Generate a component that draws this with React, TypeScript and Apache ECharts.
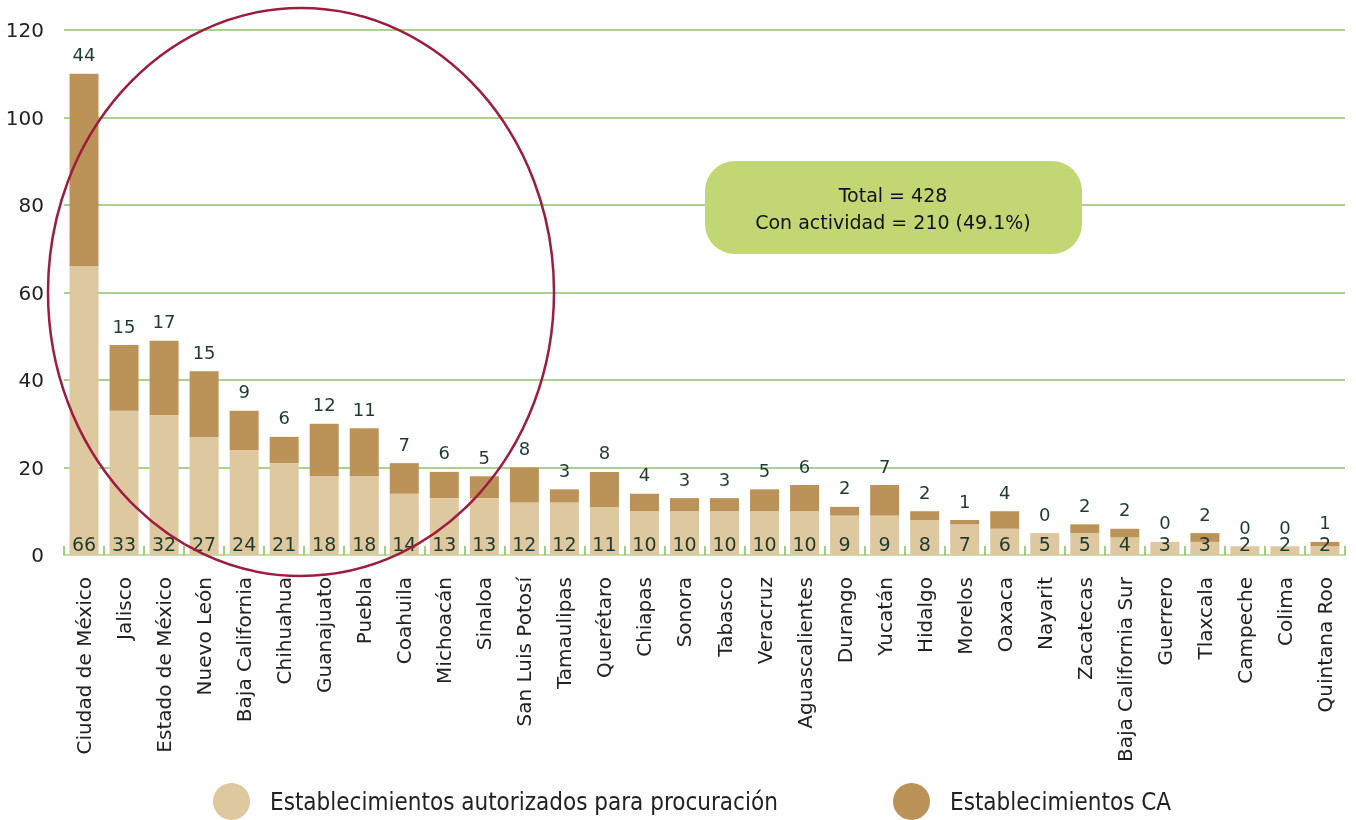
import React, { useEffect, useRef } from "react";
import * as echarts from "echarts";

const categories = [
  "Ciudad de México", "Jalisco", "Estado de México", "Nuevo León", "Baja California",
  "Chihuahua", "Guanajuato", "Puebla", "Coahuila", "Michoacán", "Sinaloa",
  "San Luis Potosí", "Tamaulipas", "Querétaro", "Chiapas", "Sonora", "Tabasco",
  "Veracruz", "Aguascalientes", "Durango", "Yucatán", "Hidalgo", "Morelos", "Oaxaca",
  "Nayarit", "Zacatecas", "Baja California Sur", "Guerrero", "Tlaxcala", "Campeche",
  "Colima", "Quintana Roo",
];
const autorizados = [66, 33, 32, 27, 24, 21, 18, 18, 14, 13, 13, 12, 12, 11, 10, 10, 10, 10, 10, 9, 9, 8, 7, 6, 5, 5, 4, 3, 3, 2, 2, 2];
const conActividad = [44, 15, 17, 15, 9, 6, 12, 11, 7, 6, 5, 8, 3, 8, 4, 3, 3, 5, 6, 2, 7, 2, 1, 4, 0, 2, 2, 0, 2, 0, 0, 1];
const yTicks = { min: 0, max: 120, interval: 20 };
const seriesNames = ["Establecimientos autorizados para procuración", "Establecimientos CA"];
const boxLines = ["Total = 428", "Con actividad = 210 (49.1%)"];

const FONT = "'DejaVu Sans', 'Noto Sans', sans-serif";
const LEGEND_FONT = "'Liberation Sans Narrow', 'DejaVu Sans Condensed', 'Noto Sans', sans-serif";
const LABEL_COLOR = "#1f3b2e";

export default function App() {
  const ref = useRef<HTMLDivElement>(null);
  useEffect(() => {
    if (!ref.current) return;
    const chart = echarts.init(ref.current, null, { renderer: "svg" });
    const legendBase = {
      icon: "circle", itemWidth: 37, itemHeight: 37, padding: 0,
      textStyle: { fontSize: 24, color: "#222", padding: [0, 0, 0, 15], fontFamily: LEGEND_FONT },
    };
    chart.setOption({
      animation: false,
      textStyle: { fontFamily: FONT },
      grid: { left: 64, right: 11, top: 30, bottom: 265, containLabel: false },
      legend: [
        { ...legendBase, data: [seriesNames[0]], left: 213, top: 783 },
        { ...legendBase, data: [seriesNames[1]], left: 893, top: 783 },
      ],
      xAxis: {
        type: "category",
        data: categories,
        axisLine: { show: true, lineStyle: { color: "#c3dfa9", width: 2 } },
        axisTick: { show: true, inside: true, length: 9, lineStyle: { color: "#86bd5a", width: 1.5 } },
        axisLabel: { rotate: 90, fontSize: 20, color: "#222", margin: 22, interval: 0, fontFamily: FONT },
      },
      yAxis: {
        type: "value",
        min: yTicks.min, max: yTicks.max, interval: yTicks.interval,
        axisLine: { show: false },
        axisTick: { show: false },
        axisLabel: { fontSize: 20, color: "#222", margin: 20, fontFamily: FONT },
        splitLine: { lineStyle: { color: "#8fc26b", width: 1.5 } },
      },
      series: [
        {
          name: seriesNames[0],
          type: "bar",
          stack: "total",
          data: autorizados,
          barWidth: 29,
          itemStyle: { color: "#dec8a0" },
          label: {
            show: true, position: "insideBottom", distance: 2,
            fontSize: 19, color: LABEL_COLOR, fontFamily: FONT,
          },
          z: 3,
        },
        {
          name: seriesNames[1],
          type: "bar",
          stack: "total",
          data: conActividad,
          barWidth: 29,
          itemStyle: { color: "#bb9358" },
          label: {
            show: true, position: "top", distance: 10,
            fontSize: 18, color: LABEL_COLOR, fontFamily: FONT,
          },
          z: 3,
        },
      ],
      graphic: [
        {
          type: "ellipse",
          shape: { cx: 301, cy: 292, rx: 253, ry: 284 },
          style: { fill: "none", stroke: "#9e1c40", lineWidth: 2.5 },
          z: 100,
        },
        {
          type: "rect",
          shape: { x: 705, y: 161, width: 377, height: 93, r: 30 },
          style: { fill: "#c2d773" },
          z: 100,
        },
        {
          type: "text",
          x: 893, y: 208,
          style: {
            text: boxLines.join("\n"),
            align: "center", verticalAlign: "middle",
            fontSize: 19, lineHeight: 27, fill: "#111", fontFamily: FONT,
          },
          z: 101,
        },
      ],
    });
    return () => chart.dispose();
  }, []);
  return <div ref={ref} style={{ position: "fixed", left: 0, top: 0, width: 1356, height: 820 }} />;
}
